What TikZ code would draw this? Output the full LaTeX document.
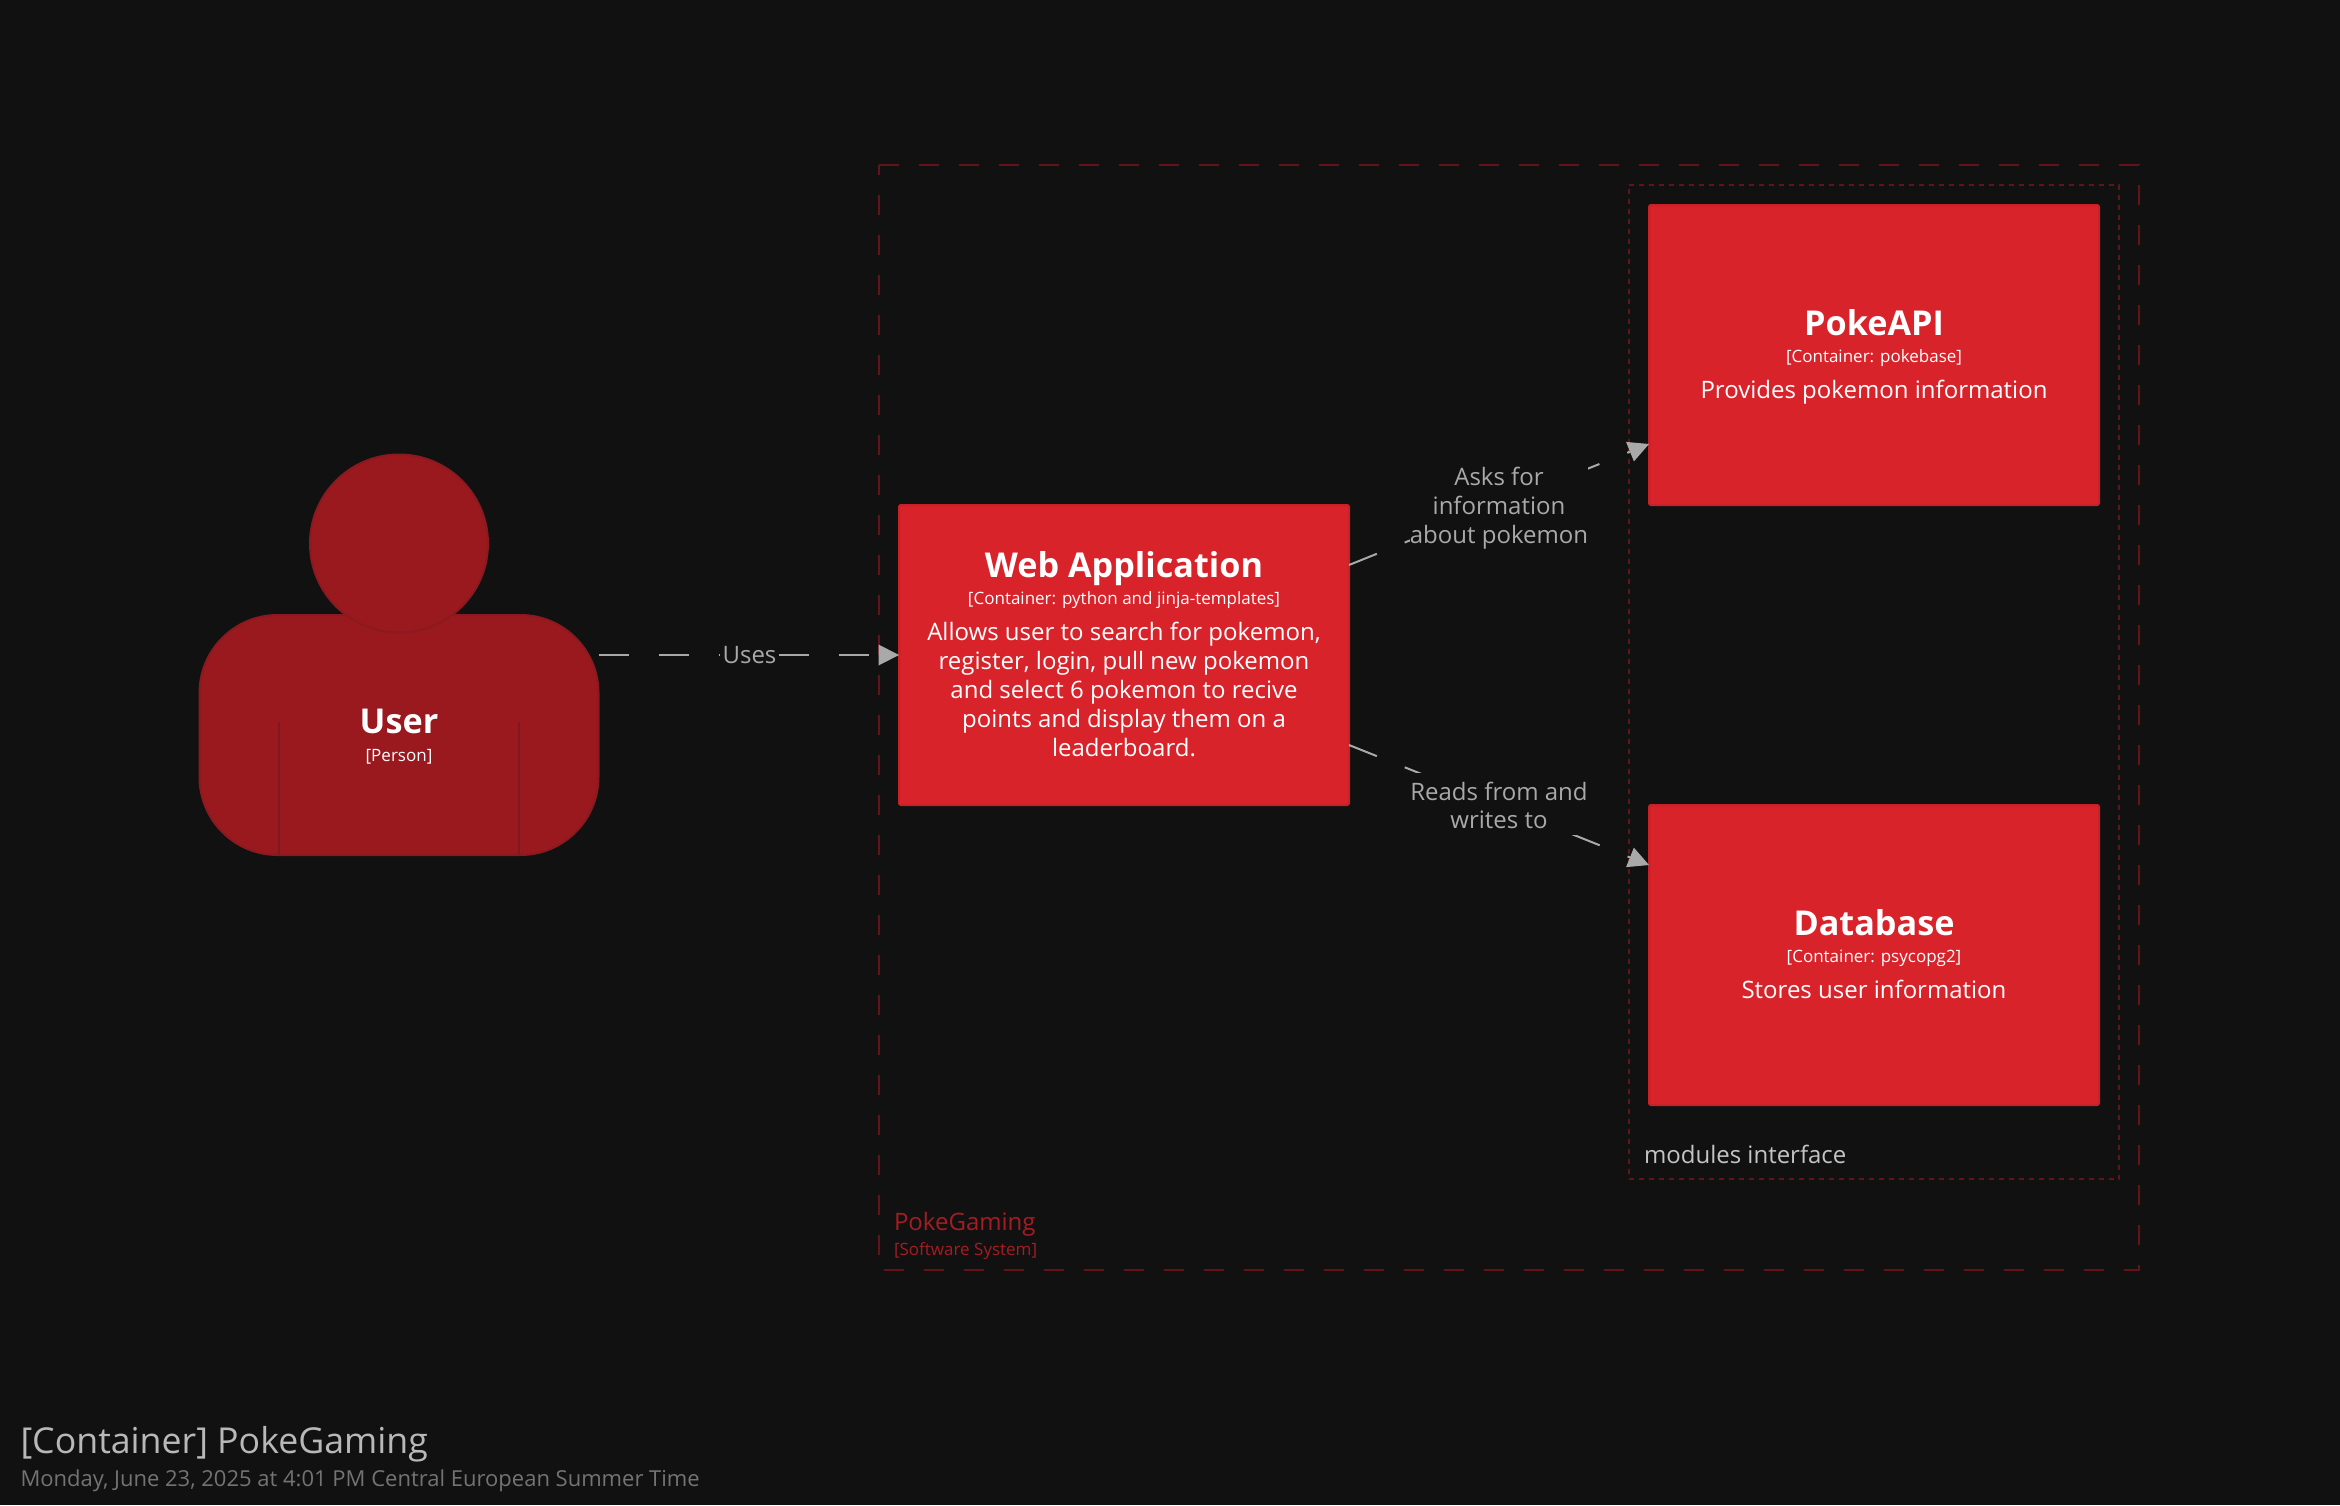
\documentclass[tikz,border=0pt]{standalone}
\usepackage{fontspec}
\setmainfont{Open Sans}
\usetikzlibrary{arrows.meta,calc}
\definecolor{bgc}{HTML}{111111}
\definecolor{boxfill}{HTML}{D8232B}
\definecolor{boxline}{HTML}{C82229}
\definecolor{personfill}{HTML}{9A191F}
\definecolor{personline}{HTML}{8A1A1F}
\definecolor{personinner}{HTML}{7E1A1F}
\definecolor{bound}{HTML}{641419}
\definecolor{boundtext}{HTML}{A51C22}
\definecolor{linkc}{HTML}{A9A9A9}
\definecolor{grouptext}{HTML}{C4C4C4}
\definecolor{titlec}{HTML}{B8B8B8}
\definecolor{subc}{HTML}{737373}
\tikzset{
  x=1pt,y=-1pt,
  txt/.style={inner sep=0pt,outer sep=0pt,anchor=base,align=center},
  namefont/.style={txt,text=white,font=\fontsize{34.2}{38}\selectfont\bfseries},
  metafont/.style={txt,text=white,font=\fontsize{17}{22}\selectfont},
  descfont/.style={txt,text=white,font=\fontsize{24}{29}\selectfont},
  linklabel/.style={txt,text=linkc,font=\fontsize{24}{29}\selectfont},
  mask/.style={fill=bgc,inner sep=0pt,outer sep=0pt,anchor=center},
  boxnode/.style={draw=boxline,fill=boxfill,line width=2pt,rounded corners=2pt,minimum width=450pt,minimum height=300pt,inner sep=0pt,outer sep=0pt,anchor=center},
  linkline/.style={draw=linkc,line width=2pt,dash pattern=on 30pt off 30pt,-{Triangle[length=20.5pt,width=21pt,line width=0pt]}},
  bodypart/.style={draw=personline,fill=personfill,line width=2pt},
}
\begin{document}
\begin{tikzpicture}
\fill[bgc] (0,0) rectangle (2340,1505);
\useasboundingbox (0,0) rectangle (2340,1505);

% boundaries
\node[inner sep=0pt,outer sep=0pt,minimum width=1260pt,minimum height=1105pt,anchor=north west] (sys) at (879,165) {};
\draw[bound,line width=2pt,dash pattern=on 20pt off 20pt] (sys.north west) -- (sys.north east) -- (sys.south east) -- (sys.south west) -- cycle;
\node[inner sep=0pt,outer sep=0pt,minimum width=490.5pt,minimum height=994pt,anchor=north west] (grp) at (1628.5,185) {};
\draw[bound,line width=2pt,dash pattern=on 5pt off 5pt] (grp.north west) -- (grp.north east) -- (grp.south east) -- (grp.south west) -- cycle;
\node[txt,anchor=base west,text=boundtext,font=\fontsize{24}{29}\selectfont] (sysname) at (894,1230) {PokeGaming};
\node[txt,anchor=base west,text=boundtext,font=\fontsize{17}{22}\selectfont] (systype) at (894,1255) {[Software System]};
\node[txt,anchor=base west,text=grouptext,font=\fontsize{24}{29}\selectfont] (grpname) at (1644,1163) {modules interface};

% person
\node[bodypart,rounded corners=78pt,minimum width=399pt,minimum height=240pt,inner sep=0pt,outer sep=0pt,anchor=center] (user) at (399,735) {};
\draw[personinner,line width=1.2pt] (279,722) -- (279,855);
\draw[personinner,line width=1.2pt] (519,722) -- (519,855);
\node[bodypart,circle,minimum size=178pt,inner sep=0pt,outer sep=0pt,anchor=center] (head) at (399,543.5) {};
\node[namefont] (username) at (399,733) {User};
\node[metafont] (usertype) at (399,761) {[Person]};

% containers
\node[boxnode] (web) at (1124,655) {};
\node[boxnode] (api) at (1874,355) {};
\node[boxnode] (db) at (1874,955) {};

\node[namefont] (webname) at (1124,577) {Web Application};
\node[metafont] (webtype) at (1124,604.7) {[Container: python and jinja-templates]};
\node[descfont] (webd1) at (1124,640) {Allows user to search for pokemon,};
\node[descfont] (webd2) at (1124,669) {register, login, pull new pokemon};
\node[descfont] (webd3) at (1124,698) {and select 6 pokemon to recive};
\node[descfont] (webd4) at (1124,727) {points and display them on a};
\node[descfont] (webd5) at (1124,756) {leaderboard.};

\node[namefont] (apiname) at (1874,335) {PokeAPI};
\node[metafont] (apitype) at (1874,362.7) {[Container: pokebase]};
\node[descfont] (apidesc) at (1874,398) {Provides pokemon information};

\node[namefont] (dbname) at (1874,935) {Database};
\node[metafont] (dbtype) at (1874,962.7) {[Container: psycopg2]};
\node[descfont] (dbdesc) at (1874,998) {Stores user information};

% connectors
\draw[linkline] ($(user.east)+(0,-80)$) -- (web.west);
\draw[linkline] ($(web.east)+(0,-90)$) -- ($(api.west)+(0,89)$);
\draw[linkline] ($(web.east)+(0,90)$) -- ($(db.west)+(0,-90)$);

% link labels
\node[mask,minimum width=59pt,minimum height=33pt] (usesbg) at (749.5,655) {};
\node[linklabel] (uses) at (749.5,663) {Uses};
\node[mask,minimum width=178pt,minimum height=91pt] (asksbg) at (1499,504.5) {};
\node[linklabel] (asks1) at (1499,485) {Asks for};
\node[linklabel] (asks2) at (1499,514) {information};
\node[linklabel] (asks3) at (1499,543) {about pokemon};
\node[mask,minimum width=178pt,minimum height=62pt] (readsbg) at (1499,804) {};
\node[linklabel] (reads1) at (1499,800) {Reads from and};
\node[linklabel] (reads2) at (1499,828.7) {writes to};

% title
\node[txt,anchor=base west,text=titlec,font=\fontsize{35.7}{42}\selectfont] (title) at (20.5,1453) {[Container] PokeGaming};
\node[txt,anchor=base west,text=subc,font=\fontsize{22}{27}\selectfont] (subtitle) at (20.5,1486) {Monday, June 23, 2025 at 4:01 PM Central European Summer Time};
\end{tikzpicture}
\end{document}
